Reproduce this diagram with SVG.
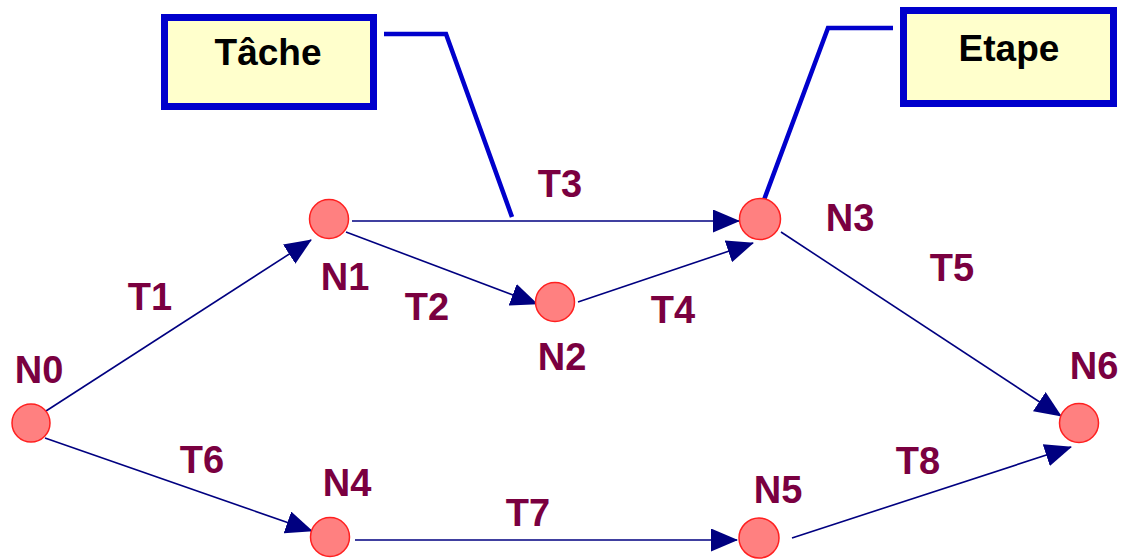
<svg xmlns="http://www.w3.org/2000/svg" width="1126" height="559" viewBox="0 0 1126 559">
<style>
.node{fill:#ff8080;stroke:#ff2020;stroke-width:1.5}
.lbl{font-family:"Liberation Sans",Arial,sans-serif;font-weight:bold;font-size:38px;fill:#7a0040;text-anchor:middle}
.edge{stroke:#000080;stroke-width:1.6;fill:none}
.box{fill:#ffffcc;stroke:#0000cc;stroke-width:7}
.call{stroke:#0000cc;stroke-width:4.5;fill:none}
.btxt{font-family:"Liberation Sans",Arial,sans-serif;font-weight:bold;font-size:37px;fill:#000;text-anchor:middle}
</style>
<defs>
<marker id="arr" markerUnits="userSpaceOnUse" markerWidth="27" markerHeight="23" refX="26" refY="11.5" orient="auto">
<path d="M0,0 L27,11.5 L0,23 Z" fill="#000080"/>
</marker>
</defs>
<rect width="1126" height="559" fill="#fff"/>
<g id="connectors">
<line class="edge" x1="46" y1="411" x2="311" y2="240" marker-end="url(#arr)"/>
<line class="edge" x1="352" y1="221" x2="739" y2="221" marker-end="url(#arr)"/>
<line class="edge" x1="346" y1="232" x2="537" y2="304" marker-end="url(#arr)"/>
<line class="edge" x1="578" y1="302" x2="753" y2="243" marker-end="url(#arr)"/>
<line class="edge" x1="781" y1="232" x2="1061" y2="416" marker-end="url(#arr)"/>
<line class="edge" x1="45" y1="438" x2="312" y2="531" marker-end="url(#arr)"/>
<line class="edge" x1="355" y1="540" x2="737" y2="540" marker-end="url(#arr)"/>
<line class="edge" x1="792" y1="538" x2="1071" y2="447" marker-end="url(#arr)"/>
</g>
<g id="callout-tache">
<polyline class="call" points="384,34 446,34 512,217"/>
<rect class="box" x="164.5" y="17.5" width="209" height="89"/>
<text class="btxt" x="268" y="65">Tâche</text>
</g>
<g id="callout-etape">
<polyline class="call" points="761,208 828,28 893,28"/>
<rect class="box" x="903.5" y="10.5" width="210" height="93"/>
<text class="btxt" x="1009" y="61">Etape</text>
</g>
<g id="N0"><circle class="node" cx="31" cy="423" r="19"/><text class="lbl" x="39" y="383">N0</text></g>
<g id="N1"><circle class="node" cx="329" cy="219" r="19.5"/><text class="lbl" x="345" y="290">N1</text></g>
<g id="N2"><circle class="node" cx="555" cy="302" r="19.5"/><text class="lbl" x="562" y="370">N2</text></g>
<g id="N3"><circle class="node" cx="760" cy="219" r="20.5"/><text class="lbl" x="850" y="231">N3</text></g>
<g id="N4"><circle class="node" cx="330" cy="537" r="19.5"/><text class="lbl" x="347" y="496">N4</text></g>
<g id="N5"><circle class="node" cx="759" cy="538" r="20"/><text class="lbl" x="778" y="503">N5</text></g>
<g id="N6"><circle class="node" cx="1079" cy="423" r="19.5"/><text class="lbl" x="1094" y="379">N6</text></g>
<g id="labels">
<text class="lbl" x="560" y="197">T3</text>
<text class="lbl" x="952" y="281">T5</text>
<text class="lbl" x="150" y="310">T1</text>
<text class="lbl" x="427" y="320">T2</text>
<text class="lbl" x="673" y="323">T4</text>
<text class="lbl" x="202" y="473">T6</text>
<text class="lbl" x="528" y="526">T7</text>
<text class="lbl" x="918" y="474">T8</text>
</g>
</svg>
